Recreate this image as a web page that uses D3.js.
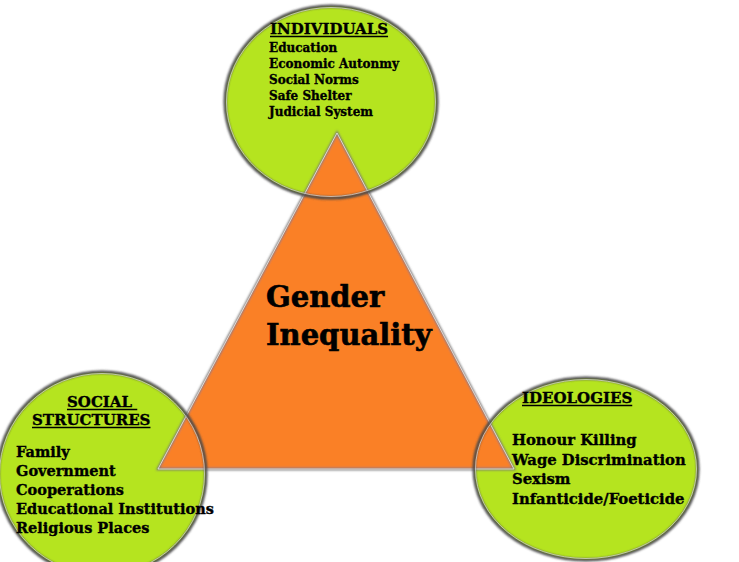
<!DOCTYPE html>
<html>
<head>
<meta charset="utf-8">
<script src="https://cdn.jsdelivr.net/npm/d3@7"></script>
<style>
  body { margin: 0; background: #fff; }
  text { font-family: "DejaVu Serif", serif; font-weight: bold; fill: #000; stroke: #000; stroke-width: 0.35; }
</style>
</head>
<body>
<div id="graph"></div>
<script>
var headings = ['INDIVIDUALS', 'SOCIAL STRUCTURES', 'IDEOLOGIES']
var individuals = ['Education', 'Economic Autonmy', 'Social Norms', 'Safe Shelter', 'Judicial System']
var structures = ['Family', 'Government', 'Cooperations', 'Educational Institutions', 'Religious Places']
var ideologies = ['Honour Killing', 'Wage Discrimination', 'Sexism', 'Infanticide/Foeticide']
var centreTitle = ['Gender', 'Inequality']

var w = 739
var h = 562
var green = '#b5e41f'
var orange = '#fa8028'

// circle layout (centre, radii), heading lines [text, x], list position
var groups = [
  { cx: 331, cy: 102, rx: 106, ry: 96, head: [[headings[0], 270]], hy: 34, hsize: 15,
    items: individuals, ix: 269, iy: 52, step: 16, size: 12 },
  { cx: 102, cy: 474, rx: 104, ry: 102, head: [['SOCIAL ', 67], ['STRUCTURES', 32]], hy: 407, hsize: 15,
    items: structures, ix: 16, iy: 457, step: 19, size: 14.5 },
  { cx: 586, cy: 469, rx: 112, ry: 91, head: [[headings[2], 522]], hy: 403, hsize: 15,
    items: ideologies, ix: 512, iy: 445, step: 19.5, size: 14.8 }
]

var tri = [[337, 133], [158, 469], [514, 469]]

var svg = d3.select('#graph')
  .append('svg')
  .attr('width', w)
  .attr('height', h)

var defs = svg.append('defs')
defs.append('filter').attr('id', 'soft')
  .append('feGaussianBlur').attr('stdDeviation', 0.8)

// circle fills
svg.selectAll('ellipse.fill')
  .data(groups)
  .enter()
  .append('ellipse')
  .attr('class', 'fill')
  .attr('cx', d => d.cx)
  .attr('cy', d => d.cy)
  .attr('rx', d => d.rx)
  .attr('ry', d => d.ry)
  .attr('fill', green)

// triangle
var line = d3.line()
svg.append('path')
  .attr('d', line(tri) + 'Z')
  .attr('fill', orange)
  .attr('stroke', '#777')
  .attr('stroke-width', 2.5)
  .attr('filter', 'url(#soft)')
svg.append('path')
  .attr('d', line(tri) + 'Z')
  .attr('fill', 'none')
  .attr('stroke', '#eee')
  .attr('stroke-width', 0.8)

// circle outlines over everything
svg.selectAll('ellipse.edge')
  .data(groups)
  .enter()
  .append('ellipse')
  .attr('class', 'edge')
  .attr('cx', d => d.cx)
  .attr('cy', d => d.cy)
  .attr('rx', d => d.rx)
  .attr('ry', d => d.ry)
  .attr('fill', 'none')
  .attr('stroke', '#4a4a4a')
  .attr('stroke-width', 3)
  .attr('filter', 'url(#soft)')
svg.selectAll('ellipse.hi')
  .data(groups)
  .enter()
  .append('ellipse')
  .attr('class', 'hi')
  .attr('cx', d => d.cx)
  .attr('cy', d => d.cy)
  .attr('rx', d => d.rx - 1.5)
  .attr('ry', d => d.ry - 1.5)
  .attr('fill', 'none')
  .attr('stroke', '#ddd')
  .attr('stroke-width', 0.7)

// headings, underlined
groups.forEach(function(g) {
  g.head.forEach(function(t, i) {
    var txt = svg.append('text')
      .attr('x', t[1])
      .attr('y', g.hy + i * 18)
      .attr('font-size', g.hsize)
      .attr('xml:space', 'preserve')
      .text(t[0])
    var bb = txt.node().getBBox()
    svg.append('line')
      .attr('x1', bb.x).attr('x2', bb.x + bb.width)
      .attr('y1', g.hy + i * 18 + 2.5).attr('y2', g.hy + i * 18 + 2.5)
      .attr('stroke', '#000').attr('stroke-width', 1.3)
  })

  svg.selectAll(null)
    .data(g.items)
    .enter()
    .append('text')
    .attr('x', g.ix)
    .attr('y', (d, i) => g.iy + i * g.step)
    .attr('font-size', g.size)
    .text(d => d)
})

// centre title
svg.selectAll('text.title')
  .data(centreTitle)
  .enter()
  .append('text')
  .attr('class', 'title')
  .attr('x', 266)
  .attr('y', (d, i) => 307 + i * 38)
  .attr('font-size', 29)
  .style('stroke-width', 0.6)
  .text(d => d)
</script>
</body>
</html>
